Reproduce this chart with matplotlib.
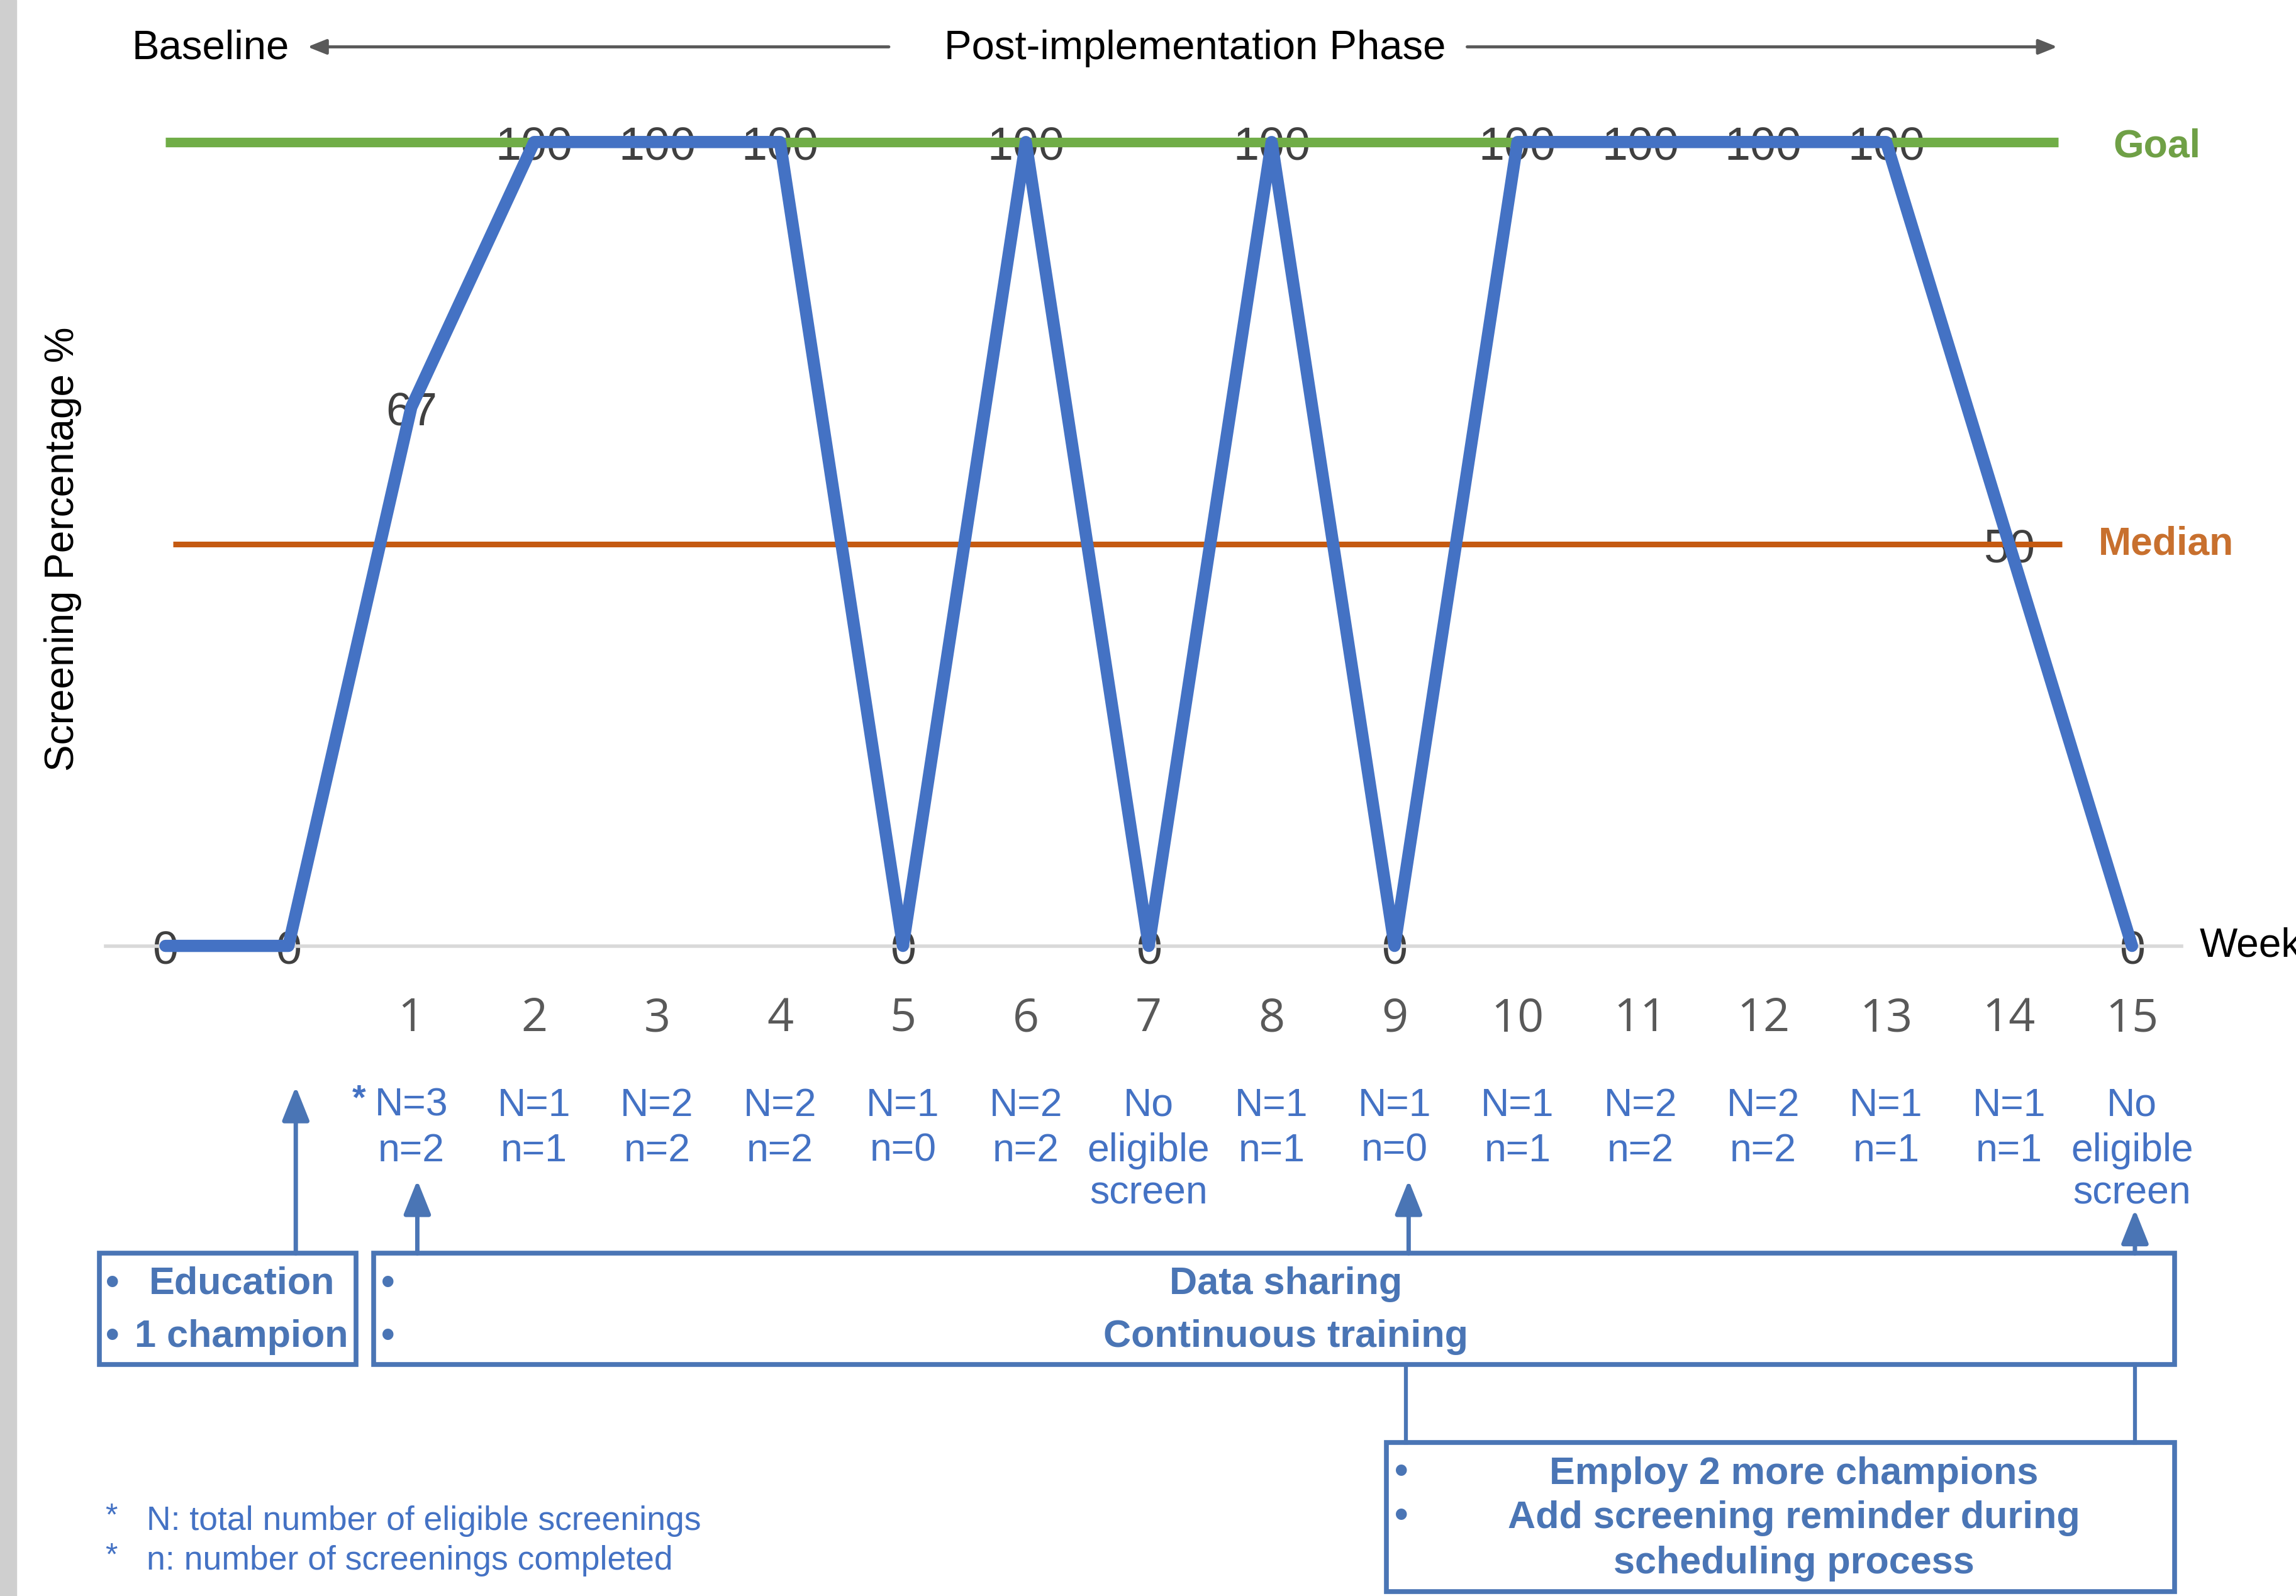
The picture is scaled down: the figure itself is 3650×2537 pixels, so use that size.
import matplotlib
matplotlib.use("Agg")
import matplotlib.pyplot as plt
import matplotlib.transforms as mtransforms
from matplotlib.patches import Rectangle

plt.rcParams['font.family'] = ['Liberation Sans', 'DejaVu Sans']

# --- data ---
week_labels = ["", "", "1", "2", "3", "4", "5", "6", "7", "8", "9", "10",
               "11", "12", "13", "14", "15"]
screening_pct = [0, 0, 67, 100, 100, 100, 0, 100, 0, 100, 0, 100, 100, 100, 100, 50, 0]
goal_pct = 100
median_pct = 50

week_notes = [["N=3", "n=2"], ["N=1", "n=1"], ["N=2", "n=2"], ["N=2", "n=2"],
              ["N=1", "n=0"], ["N=2", "n=2"], ["No", "eligible", "screen"],
              ["N=1", "n=1"], ["N=1", "n=0"], ["N=1", "n=1"], ["N=2", "n=2"],
              ["N=2", "n=2"], ["N=1", "n=1"], ["N=1", "n=1"],
              ["No", "eligible", "screen"]]

box1_lines = ["Education", "1 champion"]
box2_lines = ["Data sharing", "Continuous training"]
box3_lines = ["Employ 2 more champions", "Add screening reminder during",
              "scheduling process"]
footnotes = ["N: total number of eligible screenings",
             "n: number of screenings completed"]

BLUE = "#4472C4"
BOXBLUE = "#4A75B5"
GREEN = "#70AD47"
ORANGE = "#C55A11"
DARK = "#404040"

W, H = 1568.0, 1090.0   # layout measured on a 1568x1090 grid


def fx(x):
    return x / W


def fy(y):
    return 1 - y / H


fig = plt.figure(figsize=(36.5, 25.37), dpi=100)

# main plot area: index 0 at x=113, index 16 at x=1456, 0% at y=646, 100% at y=97
unit_x = (1456 - 113) / 16
unit_y = (646 - 97) / 100
ax = fig.add_axes([fx(72), fy(646), fx(1490) - fx(72), fy(0) - fy(646)])
ax.set_xlim((72 - 113) / unit_x, (1490 - 113) / unit_x)
ax.set_ylim(0, 646 / unit_y)
ax.patch.set_alpha(0)
for side in ["top", "right", "left"]:
    ax.spines[side].set_visible(False)
ax.spines["bottom"].set_color("#D9D9D9")
ax.spines["bottom"].set_linewidth(4)
ax.set_yticks([])

xs = list(range(len(screening_pct)))
ax.set_xticks(xs[2:])
ax.set_xticklabels(week_labels[2:], fontsize=53, color="#595959", family="Open Sans")
ax.tick_params(axis="x", length=0, pad=84)
for lbl in ax.get_xticklabels():
    lbl.set_va("center")

ax.hlines(goal_pct, 0, 15.4, color=GREEN, lw=11, zorder=3)
ax.hlines(median_pct, 0.06, 15.43, color=ORANGE, lw=6.5, zorder=3)
ax.plot(xs, screening_pct, color=BLUE, lw=14, zorder=4, clip_on=False,
        solid_joinstyle="round", solid_capstyle="round")
for x, v in zip(xs, screening_pct):
    ax.annotate(str(v), (x, v), xytext=(0, -7), textcoords="offset points",
                ha="center", va="center", fontsize=53, color=DARK,
                zorder=2, annotation_clip=False)

ax.annotate("Goal", ((1443 - 113) / unit_x, goal_pct), xytext=(0, -5),
            textcoords="offset points", ha="left", va="center",
            fontsize=45, fontweight="bold", color="#6FA046")
ax.text((1433 - 113) / unit_x, median_pct, "Median", ha="left", va="center",
        fontsize=45, fontweight="bold", color="#C8702E")
ax.text((1502 - 113) / unit_x, 0, "Week", ha="left", va="center", fontsize=46,
        color="black", clip_on=False)

# left grey strip of the screenshot
fig.add_artist(Rectangle((0, 0), fx(11), 1, transform=fig.transFigure,
                         color="#CFCFCF", zorder=0))

# y label
fig.text(fx(43), fy(375), "Screening Percentage %", rotation=90, ha="center",
         va="center", fontsize=46, color="black")

# phase header
fig.text(fx(90), fy(33), "Baseline", ha="left", va="center", fontsize=47)
fig.text(fx(645), fy(33), "Post-implementation Phase", ha="left", va="center",
         fontsize=47)
hdr = dict(arrowstyle="-|>,head_length=0.45,head_width=0.18", color="#595959",
           lw=3.5, mutation_scale=40, shrinkA=0, shrinkB=0)
ax.annotate("", xy=(fx(210), fy(32)), xytext=(fx(607), fy(32)),
            xycoords="figure fraction", textcoords="figure fraction",
            arrowprops=hdr, annotation_clip=False)
ax.annotate("", xy=(fx(1405), fy(32)), xytext=(fx(1002), fy(32)),
            xycoords="figure fraction", textcoords="figure fraction",
            arrowprops=hdr, annotation_clip=False)

# N / n notes under each week
blend = mtransforms.blended_transform_factory(ax.transData, fig.transFigure)
note_base = [762, 793, 822]
for x, lines in zip(xs[2:], week_notes):
    for i, line in enumerate(lines):
        fig.text(x, fy(note_base[i]), line, transform=blend, ha="center",
                 va="baseline", fontsize=45, color=BLUE)
fig.text(fx(250), fy(757), "*", ha="right", va="baseline", fontsize=40,
         fontweight="bold", color=BLUE)

# intervention arrows
up = dict(arrowstyle="-|>,head_length=0.55,head_width=0.22", color=BOXBLUE,
          lw=5, mutation_scale=60, shrinkA=0, shrinkB=0)
for x, y0, y1 in [(202, 856, 742), (285, 856, 806), (962, 856, 806), (1458, 856, 826)]:
    ax.annotate("", xy=(fx(x), fy(y1)), xytext=(fx(x), fy(y0)),
                xycoords="figure fraction", textcoords="figure fraction",
                arrowprops=up, annotation_clip=False)
for x in [960, 1458]:
    fig.add_artist(plt.Line2D([fx(x), fx(x)], [fy(932), fy(985)],
                              transform=fig.transFigure, color=BOXBLUE, lw=4.5))


def box(x0, y0, x1, y1):
    fig.add_artist(Rectangle((fx(x0), fy(y1)), fx(x1) - fx(x0), fy(y0) - fy(y1),
                             transform=fig.transFigure, fill=False,
                             edgecolor=BOXBLUE, lw=5.5))


bold = dict(fontsize=44, fontweight="bold", color=BOXBLUE, va="center")

box(68, 856, 243, 932)
for y, t in zip([877, 913], box1_lines):
    fig.text(fx(77), fy(y), "•", ha="center", **bold)
    fig.text(fx(165), fy(y), t, ha="center", **bold)

box(255, 856, 1485, 932)
for y, t in zip([877, 913], box2_lines):
    fig.text(fx(265), fy(y), "•", ha="center", **bold)
    fig.text(fx(878), fy(y), t, ha="center", **bold)

box(947, 985, 1485, 1087)
for y in [1006, 1036]:
    fig.text(fx(957), fy(y), "•", ha="center", **bold)
for y, t in zip([1007, 1037, 1068], box3_lines):
    fig.text(fx(1225), fy(y), t, ha="center", **bold)

# footnotes
for y, t in zip([1039, 1066], footnotes):
    fig.text(fx(76), fy(y - 3), "*", ha="center", va="center", fontsize=36, color=BLUE)
    fig.text(fx(100), fy(y), t, ha="left", va="center", fontsize=38.5, color=BLUE)

fig.savefig("out.png", dpi=100)
